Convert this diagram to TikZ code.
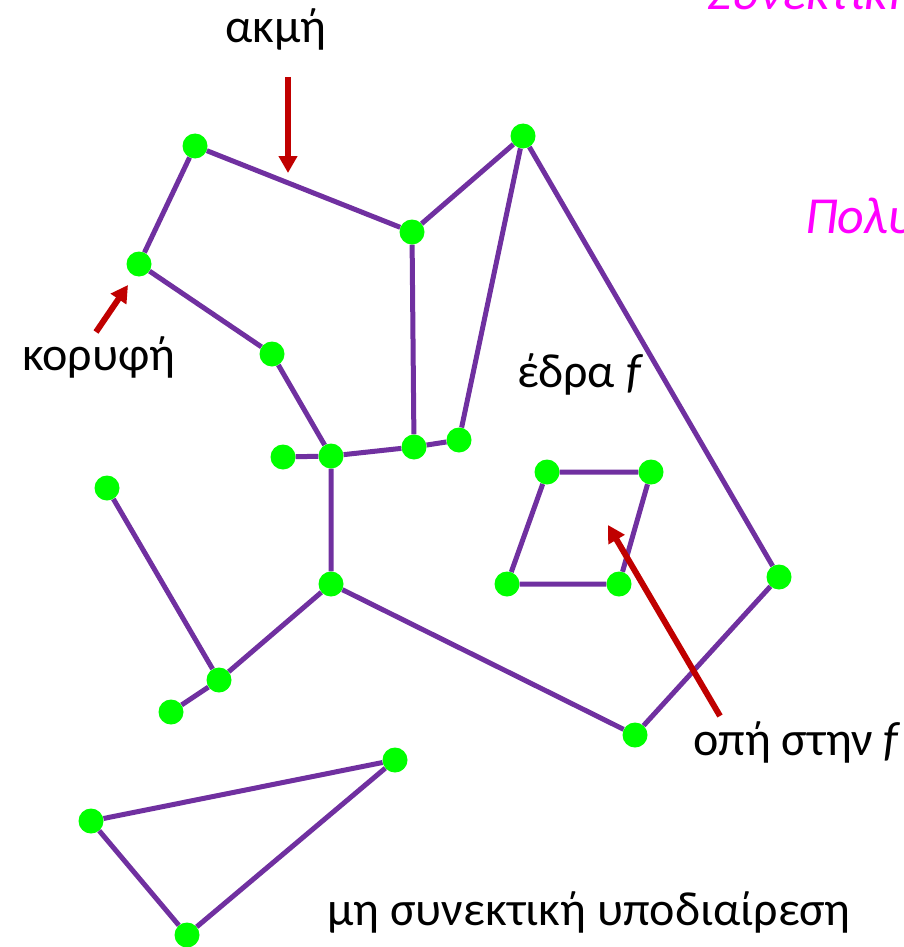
\documentclass[tikz,border=0pt]{standalone}
\usepackage{fontspec}
\setmainfont{Carlito}
\usepackage{xcolor}
\usepackage{tikz}
\usetikzlibrary{arrows.meta,backgrounds}
\definecolor{edgepurple}{RGB}{112,48,160}
\definecolor{vtxgreen}{RGB}{0,255,0}
\definecolor{markred}{RGB}{192,0,0}
\definecolor{titlemag}{RGB}{255,0,255}

\begin{document}
\begin{tikzpicture}[
      x=1pt, y=-1pt,
      font=\fontsize{48}{56}\selectfont,
      vtx/.style={circle, fill=vtxgreen, inner sep=0pt, minimum size=25pt},
      edge/.style={edgepurple, line width=5pt},
      ptr/.style={markred, line width=6pt, -{Triangle[length=17pt,width=18pt]}},
      lbl/.style={anchor=base west, inner sep=0pt},
      ttl/.style={lbl, titlemag, font=\fontsize{52}{60}\selectfont\itshape}
    ]
    \clip (0,0) rectangle (903,947);

    % vertices
    \node[vtx] (a) at (195,146) {};
    \node[vtx] (b) at (139,264) {};
    \node[vtx] (c) at (272,354) {};
    \node[vtx] (d) at (412,232) {};
    \node[vtx] (e) at (523,136) {};
    \node[vtx] (f) at (283,457) {};
    \node[vtx] (g) at (331,456) {};
    \node[vtx] (h) at (414,447) {};
    \node[vtx] (i) at (459,440) {};
    \node[vtx] (j) at (107,488) {};
    \node[vtx] (k) at (331,584) {};
    \node[vtx] (l) at (219,680) {};
    \node[vtx] (m) at (171,712) {};
    \node[vtx] (n) at (635,735) {};
    \node[vtx] (o) at (779,577) {};
    \node[vtx] (p) at (547,472) {};
    \node[vtx] (q) at (651,472) {};
    \node[vtx] (r) at (507,584) {};
    \node[vtx] (s) at (619,584) {};
    \node[vtx] (t) at (395,760) {};
    \node[vtx] (u) at (91,821) {};
    \node[vtx] (v) at (187,935) {};

    \begin{pgfonlayer}{background}
      \draw[edge] (b) -- (a) -- (d) -- (e) -- (i) -- (h) -- (d);
      \draw[edge] (b) -- (c) -- (g) -- (h);
      \draw[edge] (f) -- (g) -- (k) -- (l) -- (m);
      \draw[edge] (j) -- (l);
      \draw[edge] (k) -- (n) -- (o) -- (e);
      \draw[edge] (p) -- (q) -- (s) -- (r) -- (p);
      \draw[edge] (t) -- (u) -- (v) -- (t);
    \end{pgfonlayer}

    % labels
    \node[lbl] (akmi) at (225,43) {ακμή};
    \node[lbl] (koryfi) at (22,370) {κορυφή};
    \node[lbl] (edra) at (517,387) {έδρα \textit{f}};
    \node[lbl] (opi) at (693,755) {οπή στην \textit{f}};
    \node[lbl] (misyn) at (327,925) {μη συνεκτική υποδιαίρεση};
    \node[ttl] (synek) at (707,10) {Συνεκτική};
    \node[ttl] (polyg) at (805,233) {Πολυγωνική};

    % pointers
    \coordinate (akmitail) at (288,77);
    \coordinate (akmitip) at (288,173);
    \coordinate (korytail) at (96,332);
    \coordinate (korytip) at (128,285);
    \coordinate (opitail) at (720,716);
    \coordinate (opitip) at (608,525);
    \draw[ptr] (akmitail) -- (akmitip);
    \draw[ptr] (korytail) -- (korytip);
    \draw[ptr] (opitail) -- (opitip);
  \end{tikzpicture}
\end{document}
